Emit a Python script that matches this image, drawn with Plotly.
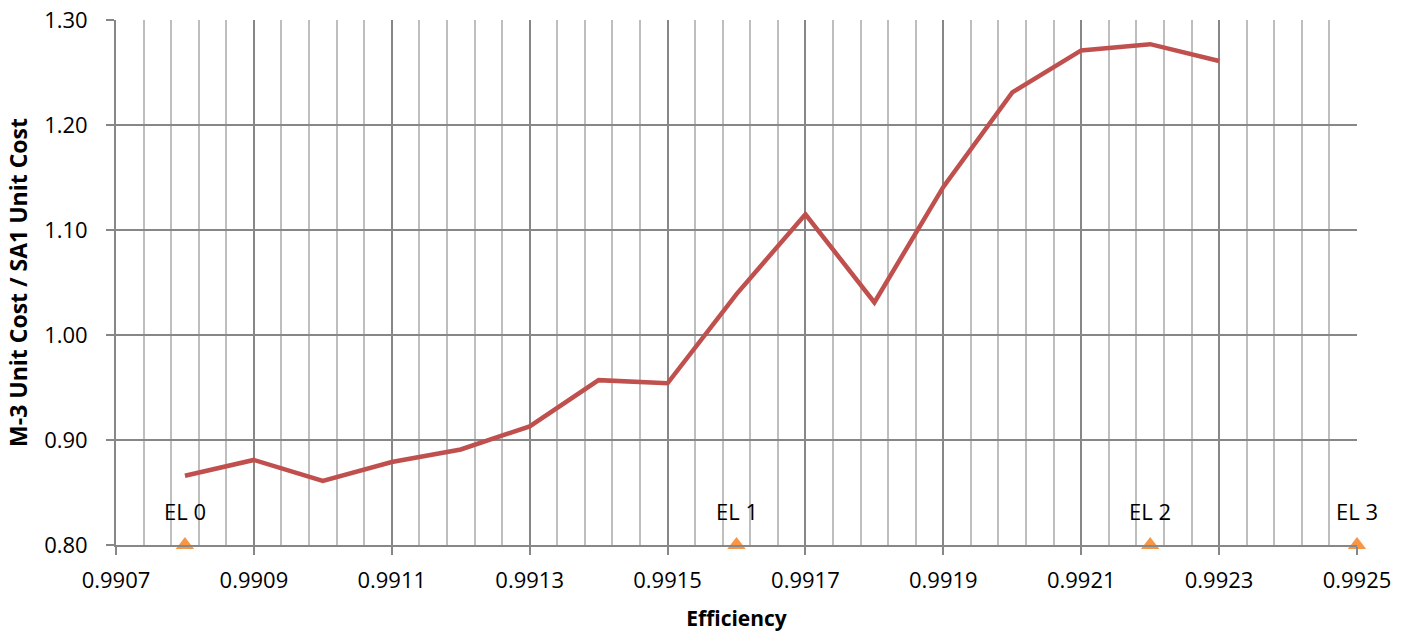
import plotly.graph_objects as go

# Efficiency vs. M-3 / SA1 unit cost ratio
efficiency = [0.9908, 0.9909, 0.9910, 0.9911, 0.9912, 0.9913, 0.9914, 0.9915,
              0.9916, 0.9917, 0.9918, 0.9919, 0.9920, 0.9921, 0.9922, 0.9923]
cost_ratio = [0.866, 0.881, 0.861, 0.879, 0.891, 0.913, 0.957, 0.954,
              1.039, 1.115, 1.031, 1.141, 1.231, 1.271, 1.277, 1.261]

# Efficiency levels marked along the baseline
el_efficiency = [0.9908, 0.9916, 0.9922, 0.9925]
el_value = [0.80, 0.80, 0.80, 0.80]
el_labels = ["EL 0", "EL 1", "EL 2", "EL 3"]

FONT = "Open Sans"
MAJOR = "#878787"
MINOR = "#BEBEBE"

fig = go.Figure()
fig.add_trace(go.Scatter(
    x=efficiency, y=cost_ratio, mode="lines",
    line=dict(color="#C0504D", width=4.5),
    showlegend=False, cliponaxis=False,
))
fig.add_trace(go.Scatter(
    x=el_efficiency, y=el_value, mode="markers",
    marker=dict(symbol="triangle-up", size=16, color="#F79646"),
    showlegend=False, cliponaxis=False,
))

# EL labels sit above their markers
for xv, yv, label in zip(el_efficiency, el_value, el_labels):
    fig.add_annotation(
        x=xv, y=yv, text=label, showarrow=False,
        yshift=34, font=dict(family=FONT, size=22, color="#000000"),
    )

fig.update_layout(
    width=1411, height=632,
    margin=dict(l=116, r=54, t=20, b=87),
    plot_bgcolor="white", paper_bgcolor="white",
    font=dict(family=FONT, size=22, color="#000000"),
    xaxis=dict(
        range=[0.9907, 0.9925], tick0=0.9907, dtick=0.0002,
        tickformat=".4f", showgrid=True, gridcolor=MAJOR, gridwidth=1.8,
        ticks="outside", ticklen=8, tickcolor=MAJOR, tickwidth=1.8,
        showline=True, linecolor=MAJOR, linewidth=1.8,
        zeroline=False, automargin=False, ticklabelstandoff=7,
        minor=dict(dtick=0.00004, tick0=0.9907, showgrid=True,
                   gridcolor=MINOR, gridwidth=1.8),
        title=dict(text="<b>Efficiency</b>", font=dict(family=FONT, size=21),
                   standoff=22),
        tickfont=dict(family=FONT, size=22),
    ),
    yaxis=dict(
        range=[0.80, 1.30], tick0=0.80, dtick=0.10, tickformat=".2f",
        showgrid=True, gridcolor=MAJOR, gridwidth=1.8,
        ticks="outside", ticklen=8, tickcolor=MAJOR, tickwidth=1.8,
        showline=True, linecolor=MAJOR, linewidth=1.8,
        zeroline=False, automargin=False, ticklabelstandoff=14,
        title=dict(text="<b>M-3 Unit Cost / SA1 Unit Cost</b>",
                   font=dict(family=FONT, size=23), standoff=10),
        tickfont=dict(family=FONT, size=22),
    ),
)

fig.write_html("out.html")
